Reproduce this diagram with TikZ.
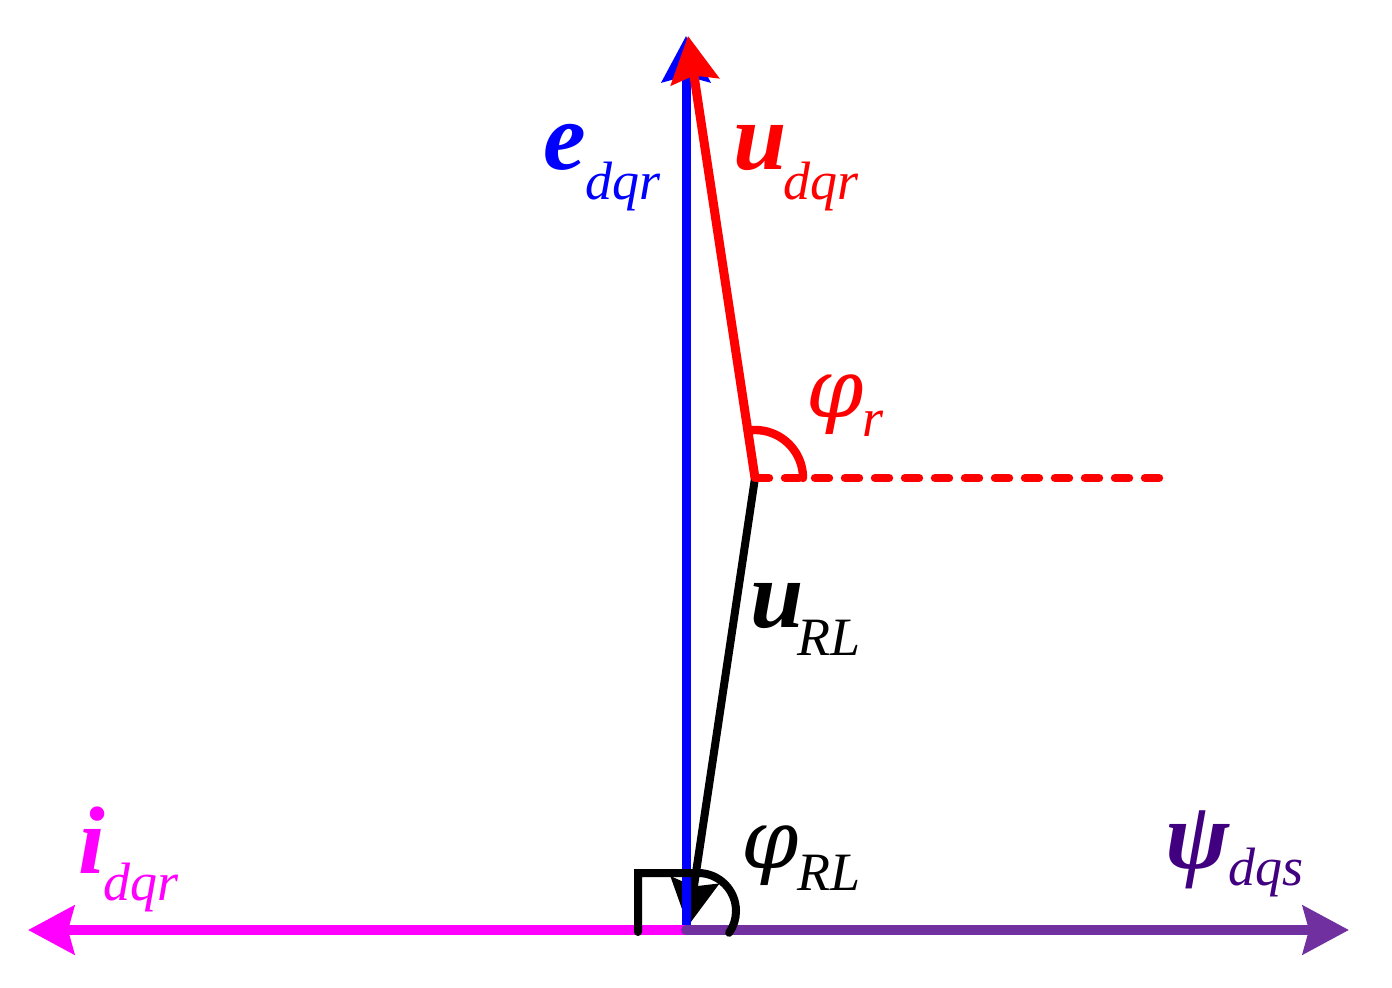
\documentclass[tikz,border=0pt]{standalone}
\usepackage{fontspec}
\setmainfont{Liberation Serif}
\newfontfamily\dvserif{DejaVu Serif}
\usetikzlibrary{arrows.meta}
\definecolor{vblue}{RGB}{0,0,255}
\definecolor{vred}{RGB}{255,0,0}
\definecolor{vmag}{RGB}{255,0,255}
\definecolor{vpur}{RGB}{112,48,160}
\definecolor{vpsi}{RGB}{64,0,128}
\tikzset{
  vec/.style={line width=4.5pt, -{Stealth[length=23pt,width=24pt,inset=3pt]}},
  mainlab/.style={anchor=base west, inner sep=0pt, font=\fontsize{48pt}{48pt}\selectfont\bfseries\itshape},
  angl/.style={anchor=base west, inner sep=0pt, font=\dvserif\fontsize{41pt}{41pt}\selectfont\itshape},
  sublab/.style={anchor=base west, inner sep=0pt, font=\fontsize{27pt}{27pt}\selectfont\itshape},
  anglemark/.style={line width=4pt, line cap=round, line join=miter}
}
\begin{document}
\begin{tikzpicture}[x=0.5pt,y=-0.5pt]
\useasboundingbox (0,0) rectangle (1392,988);
\coordinate (O) at (686,930);
\coordinate (P) at (755,478);
\coordinate (Etip) at (686,36);
\coordinate (Utip) at (688,36);
\coordinate (Itip) at (28,930);
\coordinate (Psitip) at (1349,930);
\coordinate (Uend) at (688,926);
\coordinate (Dend) at (1168,478);
\coordinate (M1) at (638,932);
\coordinate (M2) at (638,873);
\coordinate (M3) at (698,873);
% vectors
\draw[vec, black, line width=4pt] (P) -- (Uend);
\draw[vec, vblue] (O) -- (Etip);
\draw[vec, vred] (P) -- (Utip);
\draw[red, line width=4.2pt, line cap=round, dash pattern=on 7pt off 8pt] (P) -- (Dend);
\draw[red, line width=4.2pt, line cap=round] ([xshift=24pt]P) arc[start angle=0, end angle=-98.6, radius=48];
\draw[vec, vmag, line width=5pt] (O) -- (Itip);
\draw[vec, vpur, line width=5pt, line cap=round] (O) -- (Psitip);
\draw[anglemark] (M1) -- (M2) -- (M3) arc[start angle=-90, end angle=35, radius=38];
% labels
\node[mainlab, text=vblue] (e) at (543,170) {e};
\node[sublab, text=vblue] (esub) at (585,200) {dqr};
\node[mainlab, text=vred] (u) at (733,170) {u};
\node[sublab, text=vred] (usub) at (783,200) {dqr};
\node[angl, text=vred] (phir) at (806,418) {φ};
\node[sublab, text=vred] (phirsub) at (862,437) {r};
\node[mainlab, text=black] (url) at (750,628) {u};
\node[sublab, text=black] (urlsub) at (797,655) {RL};
\node[angl, text=black] (phirl) at (741,868) {φ};
\node[sublab, text=black] (phirlsub) at (797,890) {RL};
\node[mainlab, text=vmag] (i) at (78,873) {i};
\node[sublab, text=vmag] (isub) at (103,900) {dqr};
\node[mainlab, text=vpsi] (psi) at (1165,868) {ψ};
\node[sublab, text=vpsi] (psisub) at (1228,885) {dqs};
\end{tikzpicture}
\end{document}
